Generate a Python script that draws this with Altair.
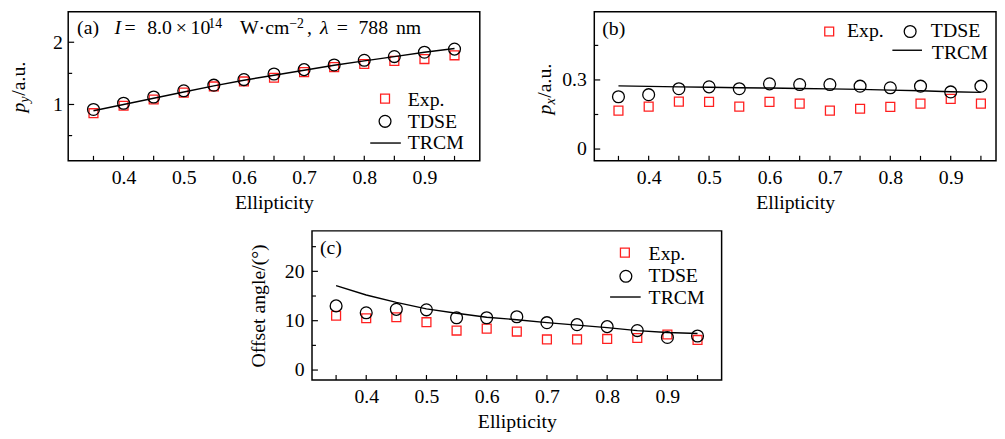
import altair as alt
import pandas as pd

# ---------------- data ----------------
ellipticity = [0.35, 0.40, 0.45, 0.50, 0.55, 0.60, 0.65, 0.70, 0.75, 0.80, 0.85, 0.90, 0.95]

py_exp = [0.86, 0.98, 1.08, 1.19, 1.29, 1.37, 1.43, 1.52, 1.60, 1.65, 1.70, 1.73, 1.79]
py_tdse = [0.92, 1.02, 1.12, 1.22, 1.31, 1.40, 1.49, 1.56, 1.635, 1.71, 1.77, 1.84, 1.89]
py_trcm = [0.90, 1.00, 1.10, 1.20, 1.30, 1.39, 1.47, 1.55, 1.63, 1.70, 1.77, 1.84, 1.90]

px_exp = [0.167, 0.184, 0.206, 0.205, 0.184, 0.205, 0.197, 0.167, 0.175, 0.183, 0.197, 0.218, 0.197]
px_tdse = [0.227, 0.236, 0.262, 0.270, 0.262, 0.283, 0.280, 0.280, 0.273, 0.266, 0.273, 0.248, 0.273]
px_trcm = [0.274, 0.272, 0.270, 0.268, 0.266, 0.265, 0.263, 0.261, 0.259, 0.256, 0.253, 0.249, 0.246]

ang_exp = [11.0, 10.5, 10.7, 9.7, 8.0, 8.4, 7.8, 6.2, 6.2, 6.3, 6.5, 7.2, 6.1]
ang_tdse = [13.0, 11.6, 12.3, 12.2, 10.6, 10.6, 10.8, 9.6, 9.2, 8.8, 8.0, 6.6, 6.9]
ang_trcm = [17.1, 15.2, 13.7, 12.4, 11.5, 10.7, 10.2, 9.6, 9.1, 8.6, 8.0, 7.6, 7.4]

x_label_vals = [0.4, 0.5, 0.6, 0.7, 0.8, 0.9]
x_tick_vals = [0.35, 0.40, 0.45, 0.50, 0.55, 0.60, 0.65, 0.70, 0.75, 0.80, 0.85, 0.90, 0.95]
legend_labels = ["Exp.", "TDSE", "TRCM"]

FONT = "Liberation Serif"
RED = "#ff1f1f"
one = pd.DataFrame({"k": [0]})


def txt(s, x, y, size=20, style="normal", angle=None):
    kw = dict(text=s, align="left", baseline="alphabetic", font=FONT,
              fontSize=size, fontStyle=style, color="black")
    if angle is not None:
        kw["angle"] = angle
    return alt.Chart(one).mark_text(**kw).encode(x=alt.value(x), y=alt.value(y))


def legend(sq, circ, line_x, line_y, text_pos):
    lay = [
        alt.Chart(one).mark_point(shape="square", size=81, filled=False, color=RED, opacity=1,
                                  strokeWidth=1.3).encode(x=alt.value(sq[0]), y=alt.value(sq[1])),
        alt.Chart(one).mark_point(shape="circle", size=144, filled=False, color="black", opacity=1,
                                  strokeWidth=1.3).encode(x=alt.value(circ[0]), y=alt.value(circ[1])),
        alt.Chart(one).mark_rule(color="black", strokeWidth=1.4).encode(
            x=alt.value(line_x[0]), x2=alt.value(line_x[1]), y=alt.value(line_y)),
    ]
    for lab, (tx, ty) in zip(legend_labels, text_pos):
        lay.append(txt(lab, tx, ty))
    return lay


def panel(exp, tdse, trcm, xdom, ydom, W, H, yvals, yfmt, ymajor, yminor,
          ytitle, ylabpad, ytitlepad, extra):
    X = alt.X("e:Q", scale=alt.Scale(domain=xdom, nice=False, zero=False),
              axis=alt.Axis(values=x_label_vals, format=".1f", title="Ellipticity",
                            labelPadding=7, titlePadding=5))
    Y = alt.Y("v:Q", scale=alt.Scale(domain=ydom, nice=False, zero=False),
              axis=alt.Axis(values=yvals, format=yfmt, title=ytitle,
                            labelPadding=ylabpad, titlePadding=ytitlepad))
    d_exp = pd.DataFrame({"e": ellipticity, "v": exp})
    d_tdse = pd.DataFrame({"e": ellipticity, "v": tdse})
    d_trcm = pd.DataFrame({"e": ellipticity, "v": trcm})

    layers = [
        alt.Chart(d_exp).mark_point(shape="square", size=81, filled=False, color=RED, opacity=1,
                                    strokeWidth=1.3).encode(x=X, y=Y),
        alt.Chart(d_trcm).mark_line(color="black", strokeWidth=1.4).encode(x=X, y=Y),
        alt.Chart(d_tdse).mark_point(shape="circle", size=144, filled=False, color="black",
                                     opacity=1, strokeWidth=1.3).encode(x=X, y=Y),
        alt.Chart(pd.DataFrame({"e": x_tick_vals})).mark_rule(color="black", strokeWidth=1.2)
        .encode(x=X, y=alt.value(H), y2=alt.value(H - 5)),
        alt.Chart(pd.DataFrame({"v": ymajor})).mark_rule(color="black", strokeWidth=1.2)
        .encode(y=Y, x=alt.value(0), x2=alt.value(6)),
        alt.Chart(pd.DataFrame({"v": yminor})).mark_rule(color="black", strokeWidth=1.2)
        .encode(y=Y, x=alt.value(0), x2=alt.value(4)),
    ] + extra
    return alt.layer(*layers).properties(width=W, height=H)


H = 151

# ---- panel (a)
a_extra = [
    txt("(a)", 9, 23),
    txt("I", 47, 23, style="italic"),
    txt("=", 57, 23),
    txt("8.0", 80, 23),
    txt("×", 109, 23),
    txt("10", 124, 23),
    txt("14", 142, 16, size=14),
    txt("W·cm", 174, 23),
    txt("−2", 224, 16, size=14),
    txt(",", 242, 23),
    txt("λ", 255, 23, style="italic"),
    txt("=", 272, 23),
    txt("788", 294, 23),
    txt("nm", 332, 23),
    # y title  p_y/a.u.
    txt("p", -44, 102, style="italic", angle=270),
    txt("y", -40, 92, size=14, style="italic", angle=270),
    txt("/a.u.", -44, 85, angle=270),
] + legend((321, 88), (321, 111), (306, 337), 133, [(344, 95), (344, 118), (344, 139)])

pa = panel(py_exp, py_tdse, py_trcm, [0.308, 0.992], [0.095, 2.49], 417, H,
           [1, 2], "d", [1, 2], [0.5, 1.5], None, 6, 0, a_extra)

# ---- panel (b)
b_extra = [
    txt("(b)", 8, 24),
    txt("p", -44, 104, style="italic", angle=270),
    txt("x", -40, 94, size=14, style="italic", angle=270),
    txt("/a.u.", -44, 87, angle=270),
] + legend((238, 20), (320, 20), (302, 332), 39, [(256, 26), (341, 26), (342, 48)])

pb = panel(px_exp, px_tdse, px_trcm, [0.310, 0.975], [-0.051, 0.596], 407, H,
           [0, 0.3], "~g", [0, 0.3], [0.15, 0.45], None, 8, 0, b_extra)

# ---- panel (c)
c_extra = [
    txt("(c)", 8, 23),
] + legend((317, 22), (318, 46), (302, 333), 67, [(341, 29), (341, 52), (341, 74)])

pc = panel(ang_exp, ang_tdse, ang_trcm, [0.310, 0.990], [-2, 28.2], 415, H,
           [0, 10, 20], "d", [0, 10, 20], [5, 15, 25], "Offset angle/(°)", 8, 16, c_extra)

spacer = alt.Chart(one).mark_point(opacity=0).encode(
    x=alt.value(0), y=alt.value(0)
).properties(width=182, height=10, view=alt.ViewBackground(strokeOpacity=0))

chart = alt.vconcat(
    alt.hconcat(pa, pb, spacing=54),
    alt.hconcat(spacer, pc, spacing=0),
    spacing=15,
).properties(
    padding=0, background="white"
).configure_view(
    stroke="black", strokeWidth=1.5
).configure_axis(
    labelFont=FONT, labelFontSize=20, labelColor="black",
    titleFont=FONT, titleFontSize=20, titleFontWeight="normal", titleColor="black",
    grid=False, ticks=False, domain=False,
)

chart.save("out.html", embed_options={"renderer": "svg", "actions": False})
